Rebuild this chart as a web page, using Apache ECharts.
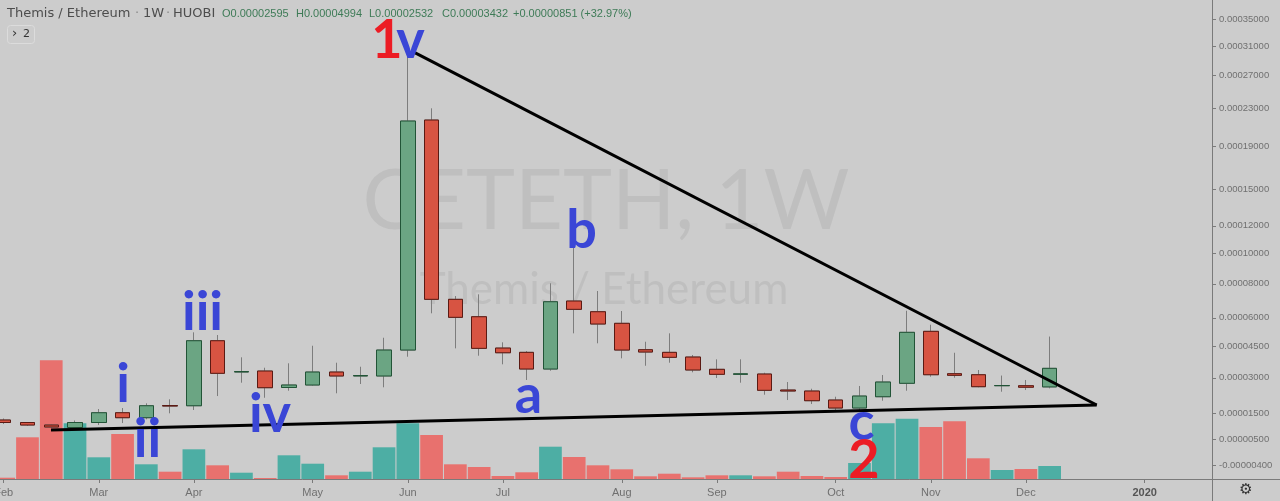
<!DOCTYPE html>
<html><head><meta charset="utf-8">
<script src="https://cdn.jsdelivr.net/npm/echarts@6/dist/echarts.min.js"></script>
<style>html,body{margin:0;padding:0;background:#cccccc}#c{width:1280px;height:501px}</style>
</head><body><div id="c"></div>
<script>
// ---- data (weekly candles, Themis / Ethereum, HUOBI) ----
const weeks = ['2019-02-04','2019-02-11','2019-02-18','2019-02-25','2019-03-04','2019-03-11','2019-03-18','2019-03-25',
  '2019-04-01','2019-04-08','2019-04-15','2019-04-22','2019-04-29','2019-05-06','2019-05-13','2019-05-20','2019-05-27',
  '2019-06-03','2019-06-10','2019-06-17','2019-06-24','2019-07-01','2019-07-08','2019-07-15','2019-07-22','2019-07-29',
  '2019-08-05','2019-08-12','2019-08-19','2019-08-26','2019-09-02','2019-09-09','2019-09-16','2019-09-23','2019-09-30',
  '2019-10-07','2019-10-14','2019-10-21','2019-10-28','2019-11-04','2019-11-11','2019-11-18','2019-11-25','2019-12-02','2019-12-09'];
const openP = [0.00001231,0.00001134,0.00001038,0.00000943,0.00001134,0.00001518,0.00001321,0.00001808,0.00001800,0.00004779,
  0.00003261,0.00003307,0.00002569,0.00002678,0.00003261,0.00003080,0.00003080,0.00004310,0.00021735,0.00007057,
  0.00006060,0.00004409,0.00004196,0.00003400,0.00006957,0.00006340,0.00005697,0.00004325,0.00004196,0.00003968,
  0.00003386,0.00003156,0.00003170,0.00002460,0.00002417,0.00002036,0.00001707,0.00002174,0.00002753,0.00005268,
  0.00003184,0.00003138,0.00002647,0.00002647,0.00002595];
const closeP = [0.00001134,0.00001038,0.00000962,0.00001134,0.00001518,0.00001321,0.00001800,0.00001788,0.00004779,0.00003202,
  0.00003285,0.00002560,0.00002678,0.00003261,0.00003080,0.00003102,0.00004310,0.00021627,0.00007057,0.00006026,
  0.00004394,0.00004176,0.00003400,0.00006916,0.00006476,0.00005659,0.00004310,0.00004212,0.00003954,0.00003354,
  0.00003156,0.00003179,0.00002448,0.00002417,0.00002007,0.00001707,0.00002203,0.00002810,0.00005215,0.00003138,
  0.00003111,0.00002604,0.00002656,0.00002581,0.00003432];
const lowP = [0.00001076,0.00001000,0.00000924,0.00000924,0.00001038,0.00001114,0.00001259,0.00001494,0.00001627,0.00002203,
  0.00002780,0.00002131,0.00002430,0.00002650,0.00002319,0.00002722,0.00002578,0.00003983,0.00006250,0.00004394,
  0.00004032,0.00003620,0.00002900,0.00003321,0.00005162,0.00004647,0.00003905,0.00003553,0.00003696,0.00003248,
  0.00002990,0.00002780,0.00002259,0.00002036,0.00001870,0.00001598,0.00001598,0.00002007,0.00002430,0.00003048,
  0.00003003,0.00002578,0.00002387,0.00002460,0.00002532];
const highP = [0.00001290,0.00001153,0.00001057,0.00001212,0.00001667,0.00001707,0.00001899,0.00002065,0.00005215,0.00005074,
  0.00003954,0.00003460,0.00003668,0.00004525,0.00003696,0.00003507,0.00004933,0.00030200,0.00023048,0.00007253,
  0.00007355,0.00004698,0.00004260,0.00008029,0.00010584,0.00007555,0.00006380,0.00004728,0.00005162,0.00004066,
  0.00003857,0.00003857,0.00003229,0.00002810,0.00002516,0.00002174,0.00002635,0.00003124,0.00006397,0.00005621,
  0.00004176,0.00003354,0.00003100,0.00002900,0.00004994];
const volume = [1.3,41.7,118.7,55.7,21.7,45,14.7,7.3,29.7,13.7,6.3,1,23.7,15.3,3.7,7.3,31.7,55.7,44,14.7,12,3,6.7,32.3,22,
  13.7,9.7,2.7,5.3,1.7,3.7,3.7,2.7,7.3,3,2,16,55.7,60.3,52,57.7,20.7,9,10,13];
const monthLabels = ['Feb','Mar','Apr','May','Jun','Jul','Aug','Sep','Oct','Nov','Dec','2020'];
const monthWeekIndex = [0,4,8,13,17,21,26,30,35,39,43,48];   // first weekly bar of each month
const priceTicks = [0.00035,0.00031,0.00027,0.00023,0.00019,0.00015,0.00012,0.0001,0.00008,0.00006,0.000045,0.00003,0.000015,0.000005,-0.000004];
// trend lines drawn on the chart: [week index, price]
const upperTrend = [[17.23,0.0003019],[45.98,0.00001829]];
const lowerTrend = [[1.99,0.00000848],[45.98,0.00001829]];

// ---- price scale (TradingView-like offset log scale) ----
const OFFSET = 0.0001;
const T = p => Math.log(p + OFFSET);
const priceMin = -0.00000844, priceMax = 0.0003809;

const UP = '#6ba583', DOWN = '#d75442', UP_B = '#225437', DOWN_B = '#5b1a13', WICK = '#7d7d7d';
const VUP = '#4daea4', VDOWN = '#e8716e';

const idx = weeks.map((w,i)=>i);
const wickData = idx.map(i => [i, T(openP[i]), T(closeP[i]), T(lowP[i]), T(highP[i])]);
const bodyData = idx.map(i => [i, T(openP[i]), T(closeP[i]), T(Math.min(openP[i],closeP[i])), T(Math.max(openP[i],closeP[i]))]);
const volData = idx.map(i => ({value:[i, volume[i]], itemStyle:{color: closeP[i] >= openP[i] ? VUP : VDOWN}}));

const last = weeks.length - 1;
const chg = closeP[last] - closeP[last-1];
const pct = chg / closeP[last-1] * 100;
const f8 = v => v.toFixed(8);

const chart = echarts.init(document.getElementById('c'), null, {renderer:'canvas'});
const blue = '#3a46d6', red = '#ec1c24';
const annFont = 'bold 54px Lato';
function ann(text, x, y, color){
  return {type:'text', z:100, style:{text, x, y, fill:color, font:annFont, align:'center', verticalAlign:'middle'}};
}
const hdrGreen = '#3e7b57';
function hdr(text, x, color, font){
  return {type:'text', z:100, style:{text, x, y:13.5, fill:color, font: font || '11px "Liberation Sans"', verticalAlign:'middle'}};
}
chart.setOption({
  animation:false,
  backgroundColor:'#cccccc',
  grid:{left:0, right:68, top:0, bottom:22, containLabel:false, outerBoundsMode:'none'},
  xAxis:{
    type:'value', min:-0.156, max:50.83,
    splitLine:{show:false},
    axisLine:{show:true, onZero:false, lineStyle:{color:'#7a7a7a'}},
    axisTick:{show:true, length:4, lineStyle:{color:'#7a7a7a'}, customValues: monthWeekIndex},
    axisLabel:{customValues: monthWeekIndex, margin:8, color:'#707070', fontSize:11, fontFamily:'Liberation Sans',
      formatter: v => { const k = monthWeekIndex.indexOf(Math.round(v)); const s = monthLabels[k] || '';
        return /^\d{4}$/.test(s) ? '{y|'+s+'}' : s; },
      rich:{y:{fontWeight:'bold', color:'#555555', fontSize:11, fontFamily:'Liberation Sans'}}}
  },
  yAxis:[{
    type:'value', position:'right', min:T(priceMin), max:T(priceMax),
    splitLine:{show:false},
    axisLine:{show:true, onZero:false, lineStyle:{color:'#7a7a7a'}},
    axisTick:{show:true, length:4, lineStyle:{color:'#7a7a7a'}, customValues: priceTicks.map(T)},
    axisLabel:{customValues: priceTicks.map(T), margin:7, color:'#707070', fontSize:9.5, fontFamily:'Liberation Sans',
      formatter: v => { let best = priceTicks[0]; priceTicks.forEach(p => { if (Math.abs(T(p)-v) < Math.abs(T(best)-v)) best = p; }); return f8(best); }}
  },{
    type:'value', show:false, min:0, max: v => v.max * 4.035,
    axisLine:{show:false, onZero:false}, axisTick:{show:false}, axisLabel:{show:false}, splitLine:{show:false}
  }],
  graphic:[
    {type:'text', z:1, style:{text:'CETETH, 1W', x:606, y:202, fill:'#bfbfbf', font:'83px Lato', align:'center', verticalAlign:'middle'}},
    {type:'text', z:1, style:{text:'Themis / Ethereum', x:604, y:290, fill:'#bfbfbf', font:'44px Lato', align:'center', verticalAlign:'middle'}},
    {type:'line', z:1, shape:{x1:1212, y1:479.5, x2:1280, y2:479.5}, style:{stroke:'#7a7a7a', lineWidth:1}},
    {type:'line', z:1, shape:{x1:1212.5, y1:479, x2:1212.5, y2:501}, style:{stroke:'#7a7a7a', lineWidth:1}},
    hdr('Themis / Ethereum', 7, '#4d4d4d', '13px "DejaVu Sans"'),
    hdr('·', 135, '#8a8a8a', '13px "DejaVu Sans"'),
    hdr('1W', 143, '#4d4d4d', '13px "DejaVu Sans"'),
    hdr('·', 166, '#8a8a8a', '13px "DejaVu Sans"'),
    hdr('HUOBI', 173, '#4d4d4d', '13px "DejaVu Sans"'),
    hdr('O' + f8(openP[last]), 222, hdrGreen),
    hdr('H' + f8(highP[last]), 296, hdrGreen),
    hdr('L' + f8(lowP[last]), 369, hdrGreen),
    hdr('C' + f8(closeP[last]), 442, hdrGreen),
    hdr((chg>=0?'+':'') + f8(chg) + ' (' + (pct>=0?'+':'') + pct.toFixed(2) + '%)', 513, hdrGreen),
    {type:'rect', z:100, shape:{x:7.5, y:25.5, width:27, height:18, r:3}, style:{fill:'none', stroke:'#dcdcdc', lineWidth:1}},
    {type:'text', z:100, style:{text:'›', x:12, y:34, fill:'#333', font:'13px "DejaVu Sans"', verticalAlign:'middle'}},
    {type:'text', z:100, style:{text:'2', x:23, y:34.5, fill:'#333', font:'11px "DejaVu Sans"', verticalAlign:'middle'}},
    {type:'text', z:100, style:{text:'⚙', x:1246, y:490, fill:'#333', font:'15px "DejaVu Sans"', align:'center', verticalAlign:'middle'}},
    ann('1', 387, 40.7, red),
    ann('v', 410.5, 40.7, blue),
    ann('iii', 202.5, 312.7, blue),
    ann('i', 123, 384.7, blue),
    ann('ii', 147.5, 439.7, blue),
    ann('iv', 270, 414.7, blue),
    ann('a', 528.5, 395.7, blue),
    ann('b', 581.5, 230.7, blue),
    ann('c', 861.5, 422.7, blue),
    ann('2', 864, 460.7, red)
  ],
  series:[
    {type:'bar', name:'Volume', xAxisIndex:0, yAxisIndex:1, data:volData, barWidth:22.7, z:1},
    {type:'candlestick', name:'wick', xAxisIndex:0, yAxisIndex:0, data:wickData, barWidth:15, z:2,
      itemStyle:{color:UP, color0:DOWN, borderColor:WICK, borderColor0:WICK, borderWidth:1}},
    {type:'candlestick', name:'body', xAxisIndex:0, yAxisIndex:0, data:bodyData, barWidth:15, z:3,
      itemStyle:{color:UP, color0:DOWN, borderColor:UP_B, borderColor0:DOWN_B, borderWidth:1}},
    {type:'line', name:'upper', xAxisIndex:0, yAxisIndex:0, data:upperTrend.map(d=>[d[0], T(d[1])]), showSymbol:false, symbol:'none', z:5,
      lineStyle:{color:'#000', width:3}},
    {type:'line', name:'lower', xAxisIndex:0, yAxisIndex:0, data:lowerTrend.map(d=>[d[0], T(d[1])]), showSymbol:false, symbol:'none', z:5,
      lineStyle:{color:'#000', width:3}}
  ]
});
</script></body></html>
